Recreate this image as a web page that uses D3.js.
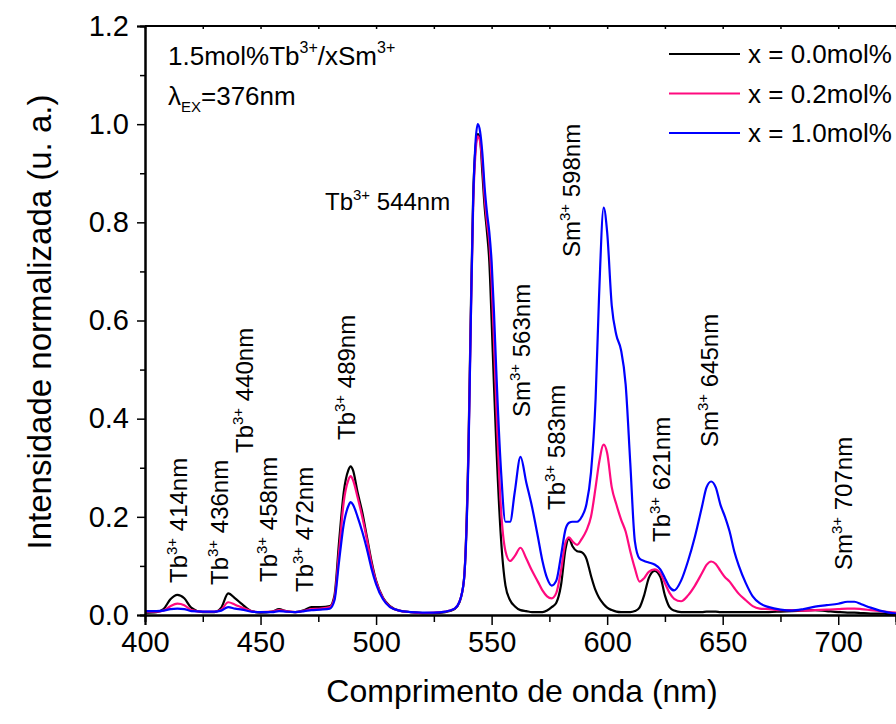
<!DOCTYPE html>
<html><head><meta charset="utf-8">
<script src="https://cdn.jsdelivr.net/npm/d3@7/dist/d3.min.js"></script>
<style>
html,body{margin:0;padding:0;background:#fff;}
svg{display:block;font-family:"Liberation Sans",Arial,sans-serif;}
</style></head>
<body>
<svg id="chart" width="896" height="724"></svg>
<script>
const wavelengths = [400,405,408,411,414,417,420,425,430,433,436,439,442,446,450,455,458,461,465,469,472,476,480,482,484,486,488,489,490,492,494,496,498,500,503,506,510,515,520,525,530,534,536,538,540,541,542,543,544,545,546,547,548,549,550,551,552,554,556,558,560,562.5,565,567.5,570,572,574,576,578,580,582,583.5,585,587,589,591,593,595,596.5,598.5,600,602,604,606,608,610,612,614,616,618,620.5,623,625,627,629,632,635,638,641,643,645,647,649,651,653,655,657,660,663,666,670,675,680,685,690,695,700,704,707,710,714,718,722,725];

const seriesX00 = [0.005,0.006,0.012,0.032,0.041,0.034,0.015,0.006,0.006,0.015,0.044,0.034,0.022,0.008,0.005,0.007,0.012,0.008,0.006,0.010,0.016,0.016,0.018,0.04,0.15,0.25,0.295,0.303,0.295,0.25,0.21,0.16,0.11,0.07,0.035,0.018,0.009,0.006,0.004,0.004,0.006,0.012,0.025,0.07,0.35,0.62,0.85,0.95,0.98,0.97,0.90,0.83,0.78,0.72,0.60,0.47,0.35,0.16,0.06,0.03,0.018,0.01,0.008,0.006,0.006,0.006,0.009,0.016,0.025,0.06,0.135,0.156,0.14,0.13,0.128,0.115,0.08,0.05,0.035,0.022,0.015,0.01,0.007,0.006,0.006,0.006,0.008,0.015,0.04,0.075,0.09,0.078,0.04,0.016,0.009,0.006,0.006,0.006,0.006,0.007,0.007,0.007,0.006,0.006,0.006,0.006,0.006,0.006,0.006,0.006,0.006,0.007,0.008,0.009,0.01,0.008,0.006,0.005,0.005,0.004,0.003,0.003,0.002,0.002];

const seriesX02 = [0.007,0.007,0.009,0.018,0.023,0.02,0.01,0.007,0.007,0.011,0.026,0.021,0.015,0.008,0.006,0.007,0.01,0.008,0.006,0.009,0.012,0.013,0.016,0.035,0.13,0.23,0.275,0.283,0.275,0.24,0.20,0.155,0.105,0.068,0.034,0.017,0.009,0.006,0.004,0.005,0.007,0.013,0.026,0.07,0.34,0.6,0.83,0.94,0.975,0.965,0.92,0.85,0.8,0.76,0.68,0.56,0.43,0.22,0.13,0.11,0.12,0.137,0.115,0.09,0.068,0.05,0.038,0.034,0.045,0.09,0.148,0.158,0.15,0.143,0.155,0.172,0.2,0.26,0.31,0.347,0.33,0.26,0.225,0.195,0.17,0.13,0.095,0.068,0.075,0.088,0.093,0.085,0.065,0.045,0.033,0.028,0.04,0.06,0.085,0.102,0.109,0.104,0.09,0.077,0.068,0.055,0.043,0.03,0.018,0.013,0.012,0.01,0.01,0.009,0.01,0.011,0.012,0.013,0.013,0.012,0.01,0.008,0.006,0.005];

const seriesX10 = [0.008,0.008,0.009,0.012,0.013,0.012,0.008,0.007,0.007,0.009,0.016,0.013,0.011,0.007,0.006,0.006,0.008,0.007,0.006,0.008,0.01,0.011,0.013,0.03,0.11,0.185,0.222,0.23,0.225,0.2,0.17,0.135,0.095,0.063,0.032,0.016,0.009,0.006,0.005,0.005,0.007,0.013,0.026,0.07,0.33,0.6,0.84,0.96,1.0,0.985,0.94,0.87,0.82,0.78,0.72,0.62,0.5,0.3,0.19,0.19,0.25,0.322,0.27,0.22,0.16,0.11,0.075,0.06,0.07,0.12,0.175,0.188,0.19,0.19,0.2,0.225,0.29,0.44,0.65,0.83,0.78,0.63,0.57,0.54,0.47,0.31,0.15,0.115,0.11,0.107,0.103,0.093,0.075,0.057,0.05,0.07,0.11,0.16,0.22,0.26,0.272,0.26,0.225,0.2,0.17,0.13,0.1,0.065,0.038,0.024,0.016,0.011,0.009,0.012,0.017,0.02,0.023,0.027,0.027,0.022,0.015,0.009,0.005,0.003];

const seriesNames = ["x = 0.0mol%","x = 0.2mol%","x = 1.0mol%"];
const seriesColors = ["#000000","#ff0a7f","#0000ff"];
const xTicks = [400,450,500,550,600,650,700];
const yTicks = [0.0,0.2,0.4,0.6,0.8,1.0,1.2];

// annotations: ion, superscript, wavelength text
const annIons = ["Tb","Tb","Tb","Tb","Tb","Tb","Sm","Tb","Sm","Tb","Sm","Sm"];
const annSups = ["3+","3+","3+","3+","3+","3+","3+","3+","3+","3+","3+","3+"];
const annTexts = ["414nm","436nm","440nm","458nm","472nm","489nm","563nm","583nm","598nm","621nm","645nm","707nm"];
// layout (pixel) of the rotated annotations: baseline x, start y
const annLayout = [[187,583],[228,585],[253,453],[277,582],[313,592],[355,440],[530,417],[565,510],[580,257],[670,542],[718,447],[852,570]];

const m={left:145,right:896,top:26,bottom:615};
const svg=d3.select("#chart");
const x=d3.scaleLinear().domain([400,725]).range([m.left,m.right]);
const y=d3.scaleLinear().domain([0,1.2]).range([m.bottom,m.top]);

svg.append("defs").append("clipPath").attr("id","clip")
  .append("rect").attr("x",m.left).attr("y",m.top).attr("width",m.right-m.left).attr("height",m.bottom-m.top);

// curves
const series=[seriesX00,seriesX02,seriesX10];
const line=d3.line().x(d=>x(d[0])).y(d=>y(d[1])).curve(d3.curveMonotoneX);
series.forEach((vals,i)=>{
  svg.append("path").attr("clip-path","url(#clip)")
    .datum(wavelengths.map((w,j)=>[w,vals[j]]))
    .attr("fill","none").attr("stroke",seriesColors[i]).attr("stroke-width",2.2)
    .attr("stroke-linejoin","round").attr("d",line);
});

// axes
const fs=29;
const xAx=svg.append("g").attr("transform",`translate(0,${m.bottom})`)
  .call(d3.axisBottom(x).tickValues(xTicks).tickSize(10).tickPadding(6).tickFormat(d3.format("d")));
const xMinor=svg.append("g").attr("transform",`translate(0,${m.bottom})`)
  .call(d3.axisBottom(x).tickValues([425,475,525,575,625,675,725]).tickSize(7).tickFormat(""));
const yAx=svg.append("g").attr("transform",`translate(${m.left},0)`)
  .call(d3.axisLeft(y).tickValues(yTicks).tickSize(8).tickPadding(8).tickFormat(d3.format(".1f")));
const yMinor=svg.append("g").attr("transform",`translate(${m.left},0)`)
  .call(d3.axisLeft(y).tickValues([0.1,0.3,0.5,0.7,0.9,1.1]).tickSize(5).tickFormat(""));
const xTop=svg.append("g").attr("transform",`translate(0,${m.top})`)
  .call(d3.axisBottom(x).tickValues(d3.range(400,726,25)).tickSize(3).tickFormat(""));
[xAx,xMinor,yAx,yMinor,xTop].forEach(g=>{
  g.selectAll(".domain").attr("stroke","#000").attr("stroke-width",2);
  g.selectAll(".tick line").attr("stroke","#000").attr("stroke-width",1.5);
  g.selectAll(".tick text").attr("fill","#000").style("font-size",fs+"px").style("font-family","'Liberation Sans',Arial,sans-serif");
});
xTop.select(".domain").remove();
svg.append("line").attr("x1",m.left).attr("x2",m.right).attr("y1",m.top).attr("y2",m.top).attr("stroke","#000").attr("stroke-width",2);

// axis titles
svg.append("text").attr("x",522).attr("y",702).attr("text-anchor","middle")
  .style("font-size","32px").text("Comprimento de onda (nm)");
svg.append("text").attr("transform",`translate(51,322) rotate(-90)`).attr("text-anchor","middle")
  .style("font-size","33px").text("Intensidade normalizada (u. a.)");

// annotations (rotated)
const aFs=24, sFs=15;
annIons.forEach((ion,i)=>{
  const [ax,ay]=annLayout[i];
  const t=svg.append("text").attr("transform",`translate(${ax},${ay}) rotate(-90)`).style("font-size",aFs+"px");
  t.append("tspan").text(ion);
  t.append("tspan").attr("dy",-10).style("font-size",sFs+"px").text(annSups[i]);
  t.append("tspan").attr("dy",10).text("\u00a0"+annTexts[i]);
});
// horizontal annotation
{
  const t=svg.append("text").attr("x",325).attr("y",210).style("font-size",aFs+"px");
  t.append("tspan").text("Tb");
  t.append("tspan").attr("dy",-10).style("font-size",sFs+"px").text("3+");
  t.append("tspan").attr("dy",10).text("\u00a0544nm");
}

// info text
{
  const t=svg.append("text").attr("x",168).attr("y",65).style("font-size","26px");
  t.append("tspan").text("1.5mol%Tb");
  t.append("tspan").attr("dy",-12).style("font-size","16px").text("3+");
  t.append("tspan").attr("dy",12).text("/xSm");
  t.append("tspan").attr("dy",-12).style("font-size","16px").text("3+");
  const t2=svg.append("text").attr("x",168).attr("y",105).style("font-size","26px");
  t2.append("tspan").text("\u03bb");
  t2.append("tspan").attr("dy",7).style("font-size","15px").text("EX");
  t2.append("tspan").attr("dy",-7).text("=376nm");
}

// legend
seriesNames.forEach((n,i)=>{
  const ly=54+i*39.5;
  svg.append("line").attr("x1",669).attr("x2",740).attr("y1",ly).attr("y2",ly)
    .attr("stroke",seriesColors[i]).attr("stroke-width",2);
  svg.append("text").attr("x",748).attr("y",ly+9).style("font-size","26px").text(n);
});
</script>
</body></html>
